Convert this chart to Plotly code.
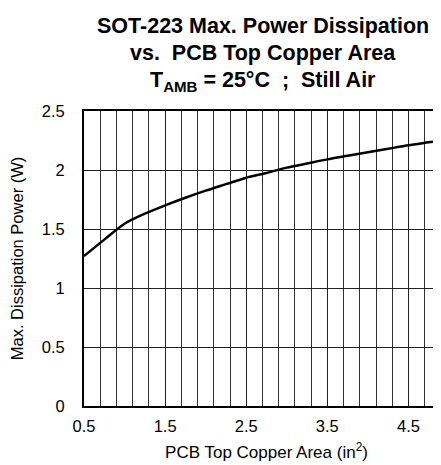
import plotly.graph_objects as go

area = [0.5, 0.75, 1.0, 1.25, 1.5, 1.75, 2.0, 2.25, 2.5, 2.75, 3.0, 3.25, 3.5, 3.75, 4.0, 4.25, 4.5, 4.75, 5.0]
power = [1.27, 1.41, 1.545, 1.63, 1.70, 1.765, 1.825, 1.88, 1.935, 1.975, 2.02, 2.055, 2.09, 2.12, 2.15, 2.18, 2.21, 2.235, 2.26]

x_ticks = [0.5, 1.5, 2.5, 3.5, 4.5]
x_labels = ["0.5", "1.5", "2.5", "3.5", "4.5"]
y_ticks = [0, 0.5, 1, 1.5, 2, 2.5]
y_labels = ["0", "0.5", "1", "1.5", "2", "2.5"]
title_lines = ["SOT-223 Max. Power Dissipation", "vs.  PCB Top Copper Area",
               "T<sub>AMB</sub> = 25°C  ;  Still Air"]

FONT = "Liberation Sans, Arial, sans-serif"
T, B = 103, 67
H = 465
PH = H - T - B

fig = go.Figure()
fig.add_trace(go.Scatter(x=area, y=power, mode="lines",
                         line=dict(color="black", width=2.5, shape="spline", smoothing=0.8),
                         showlegend=False, hoverinfo="skip"))

centers = [18, 45, 73]
for txt, cy in zip(title_lines, centers):
    fig.add_annotation(text="<b>" + txt + "</b>", xref="paper", yref="paper",
                       x=0.5, y=1 + (T - cy) / PH, xanchor="center", yanchor="middle",
                       xshift=-4,
                       showarrow=False, font=dict(size=21.5, family=FONT, color="black"))

fig.update_layout(
    width=441, height=H,
    margin=dict(l=76, r=0, t=T, b=B),
    paper_bgcolor="white", plot_bgcolor="white",
    font=dict(family=FONT, color="black"),
    xaxis=dict(
        range=[0.5, 5.0],
        tickvals=x_ticks, ticktext=x_labels,
        tickfont=dict(size=16.5), ticks="outside", ticklen=4, tickcolor="rgba(0,0,0,0)",
        showgrid=True, gridcolor="#222", gridwidth=1,
        minor=dict(tick0=0.5, dtick=0.2, showgrid=True, gridcolor="#333", gridwidth=1, ticks=""),
        showline=True, linecolor="black", linewidth=2, mirror=True,
        zeroline=False,
        title=dict(text="PCB Top Copper Area (in<sup>2</sup>)", font=dict(size=17), standoff=12),
    ),
    yaxis=dict(
        range=[0, 2.5],
        tickvals=y_ticks, ticktext=y_labels,
        tickfont=dict(size=16.5), ticks="outside", ticklen=14, tickcolor="rgba(0,0,0,0)",
        showgrid=True, gridcolor="#222", gridwidth=1,
        showline=True, linecolor="black", linewidth=2,
        zeroline=False,
        title=dict(text="Max. Dissipation Power (W)", font=dict(size=16.5), standoff=15),
    ),
)

fig.write_html("out.html")
